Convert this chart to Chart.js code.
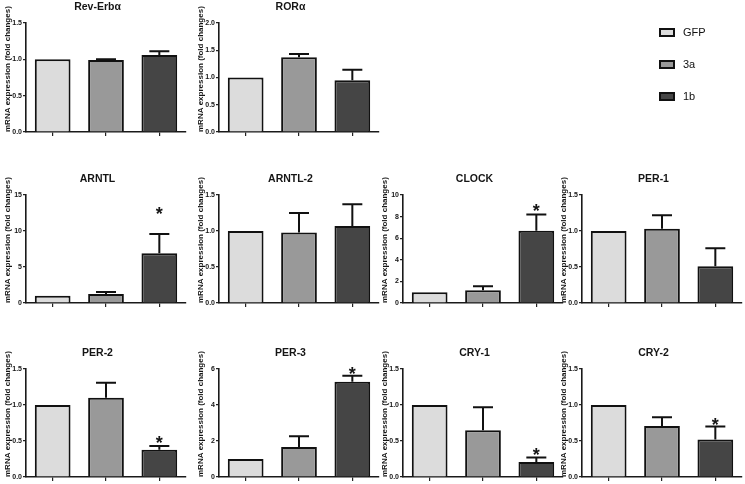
<!DOCTYPE html>
<html>
<head>
<meta charset="utf-8">
<script src="https://cdn.jsdelivr.net/npm/chart.js@4.4.1/dist/chart.umd.min.js"></script>
<style>
  html, body { margin: 0; padding: 0; background: #fff; }
  #page { position: relative; width: 745px; height: 484px; overflow: hidden; }
  #page canvas { position: absolute; }
  #legend { position: absolute; left: 659px; top: 20px; width: 80px; height: 90px; will-change: transform; opacity: 0.999; -webkit-font-smoothing: antialiased; }
  .legend-item { position: absolute; left: 0; height: 14px; font: 11px "Liberation Sans", Arial, sans-serif; color: #111; line-height: 14px; }
  .legend-item .box { position: absolute; left: 0; top: 3px; width: 16px; height: 9px; box-sizing: border-box; border: 2px solid #111; }
  .legend-item .label { position: absolute; left: 24px; top: 0; white-space: nowrap; color: #111; }
</style>
</head>
<body>
<div id="page"><div id="legend"></div></div>
<script>
// groups (bars in every panel)
const groups = ['GFP', '3a', '1b'];
const groupColors = ['#dcdcdc', '#999999', '#454545'];

// mean fold change and upper SEM per gene (GFP, 3a, 1b)
const revErbMean = [1.0, 0.99, 1.06];
const revErbErr  = [0, 0.01, 0.05];
const rorMean    = [1.0, 1.37, 0.95];
const rorErr     = [0, 0.06, 0.19];
const arntlMean  = [1.0, 1.25, 6.9];
const arntlErr   = [0, 0.28, 2.7];
const arntl2Mean = [1.0, 0.98, 1.07];
const arntl2Err  = [0, 0.27, 0.30];
const clockMean  = [1.0, 1.17, 6.7];
const clockErr   = [0, 0.37, 1.5];
const per1Mean   = [1.0, 1.03, 0.51];
const per1Err    = [0, 0.19, 0.25];
const per2Mean   = [1.0, 1.10, 0.38];
const per2Err    = [0, 0.21, 0.05];
const per3Mean   = [1.0, 1.67, 5.29];
const per3Err    = [0, 0.60, 0.34];
const cry1Mean   = [1.0, 0.65, 0.21];
const cry1Err    = [0, 0.32, 0.06];
const cry2Mean   = [1.0, 0.71, 0.52];
const cry2Err    = [0, 0.12, 0.18];

// significance asterisks (value on the y scale where the * sits)
const arntlStar = [null, null, 13.0];
const clockStar = [null, null, 8.98];
const per2Star  = [null, null, 0.54];
const per3Star  = [null, null, 6.0];
const cry1Star  = [null, null, 0.375];
const cry2Star  = [null, null, 0.79];

// panel titles and y-axis ticks
const geneTitles = ['Rev-Erbα', 'RORα', 'ARNTL', 'ARNTL-2', 'CLOCK', 'PER-1', 'PER-2', 'PER-3', 'CRY-1', 'CRY-2'];
const yMax   = [1.5, 2.0, 15, 1.5, 10, 1.5, 1.5, 6, 1.5, 1.5];
const yStep  = [0.5, 0.5, 5, 0.5, 2, 0.5, 0.5, 2, 0.5, 0.5];
const yDecimals = [1, 1, 0, 1, 0, 1, 1, 0, 1, 1];
const yTitle = 'mRNA expression (fold changes)';

const geneMeans = [revErbMean, rorMean, arntlMean, arntl2Mean, clockMean, per1Mean, per2Mean, per3Mean, cry1Mean, cry2Mean];
const geneErrs  = [revErbErr, rorErr, arntlErr, arntl2Err, clockErr, per1Err, per2Err, per3Err, cry1Err, cry2Err];
const geneStars = [null, null, arntlStar, null, clockStar, null, per2Star, per3Star, cry1Star, cry2Star];

// grid layout
const panelCol = [0, 1, 0, 1, 2, 3, 0, 1, 2, 3];
const panelRow = [0, 0, 1, 1, 1, 1, 2, 2, 2, 2];
const colAxisX = [26, 219, 403, 582];
const rowTop = [23, 195, 369];
const rowPlotH = [109, 108, 108];

const FONT = '"Liberation Sans", Arial, sans-serif';
const INK = '#151515';

const errorBarPlugin = {
    id: 'errorBars',
    afterDatasetsDraw(chart) {
        const ctx = chart.ctx;
        const y = chart.scales.y;
        const ds = chart.data.datasets[0];
        const meta = chart.getDatasetMeta(0);
        ctx.save();
        ctx.strokeStyle = '#111';
        ctx.lineWidth = 2;
        meta.data.forEach((bar, i) => {
            const e = ds.errors[i];
            if (!e) return;
            const top = y.getPixelForValue(ds.data[i] + e);
            ctx.beginPath();
            ctx.moveTo(bar.x, bar.y);
            ctx.lineTo(bar.x, top);
            ctx.moveTo(bar.x - 10, top);
            ctx.lineTo(bar.x + 10, top);
            ctx.stroke();
        });
        if (ds.stars) {
            ctx.fillStyle = INK;
            ctx.font = 'bold 18px ' + FONT;
            ctx.textAlign = 'center';
            ctx.textBaseline = 'alphabetic';
            meta.data.forEach((bar, i) => {
                const s = ds.stars[i];
                if (s == null) return;
                ctx.fillText('*', bar.x, y.getPixelForValue(s) + 10.5);
            });
        }
        ctx.restore();
    }
};

const yTitlePlugin = {
    id: 'yTitleText',
    afterDraw(chart) {
        const ctx = chart.ctx;
        ctx.save();
        ctx.translate(7.5, chart.chartArea.bottom);
        ctx.rotate(-Math.PI / 2);
        ctx.font = 'bold 8px ' + FONT;
        ctx.fillStyle = INK;
        ctx.textAlign = 'left';
        ctx.textBaseline = 'middle';
        ctx.fillText(yTitle, 0, 0);
        ctx.restore();
    }
};

const page = document.getElementById('page');

geneTitles.forEach((title, k) => {
    const axisX = colAxisX[panelCol[k]];
    const plotTop = rowTop[panelRow[k]];
    const plotH = rowPlotH[panelRow[k]];

    const canvas = document.createElement('canvas');
    canvas.width = 188;
    canvas.height = 24 + plotH + 8;
    canvas.style.left = (axisX - 26) + 'px';
    canvas.style.top = (plotTop - 24) + 'px';
    page.appendChild(canvas);

    const dec = yDecimals[k];

    new Chart(canvas, {
        type: 'bar',
        data: {
            labels: groups,
            datasets: [{
                data: geneMeans[k],
                errors: geneErrs[k],
                stars: geneStars[k],
                backgroundColor: groupColors,
                borderColor: '#111',
                borderWidth: 2,
                barPercentage: 0.67,
                categoryPercentage: 1.0
            }]
        },
        options: {
            responsive: false,
            animation: false,
            devicePixelRatio: 1,
            layout: { padding: { left: 9, right: 2, top: 2, bottom: 0 } },
            plugins: {
                legend: { display: false },
                tooltip: { enabled: false },
                title: {
                    display: true,
                    text: title,
                    color: INK,
                    font: { family: FONT, size: 10.5, weight: 'bold', lineHeight: 1.2 },
                    padding: { top: 0, bottom: 9.4 }
                }
            },
            scales: {
                x: {
                    offset: true,
                    ticks: { display: false },
                    grid: {
                        display: true,
                        drawOnChartArea: false,
                        drawTicks: true,
                        tickLength: 4,
                        offset: false,
                        color: '#222',
                        lineWidth: 1.2
                    },
                    border: { display: true, color: '#1a1a1a', width: 1.6 },
                    afterFit(s) { s.height = 8; }
                },
                y: {
                    min: 0,
                    max: yMax[k],
                    ticks: {
                        stepSize: yStep[k],
                        color: INK,
                        padding: 1,
                        font: { family: FONT, size: 7, weight: 'bold' },
                        callback: v => Number(v).toFixed(dec)
                    },
                    grid: {
                        drawOnChartArea: false,
                        drawTicks: true,
                        tickLength: 3,
                        color: '#222',
                        lineWidth: 1.2
                    },
                    border: { display: true, color: '#1a1a1a', width: 1.6 },
                    afterFit(s) { s.width = 17; }
                }
            }
        },
        plugins: [errorBarPlugin, yTitlePlugin]
    });
});

// legend
const legend = document.getElementById('legend');
const legendTop = [28, 60, 92];
groups.forEach((g, i) => {
    const item = document.createElement('div');
    item.className = 'legend-item';
    item.style.top = (legendTop[i] - 3 - 20) + 'px';
    const box = document.createElement('span');
    box.className = 'box';
    box.style.background = groupColors[i];
    const label = document.createElement('span');
    label.className = 'label';
    label.textContent = g;
    item.appendChild(box);
    item.appendChild(label);
    legend.appendChild(item);
});
</script>
</body>
</html>
